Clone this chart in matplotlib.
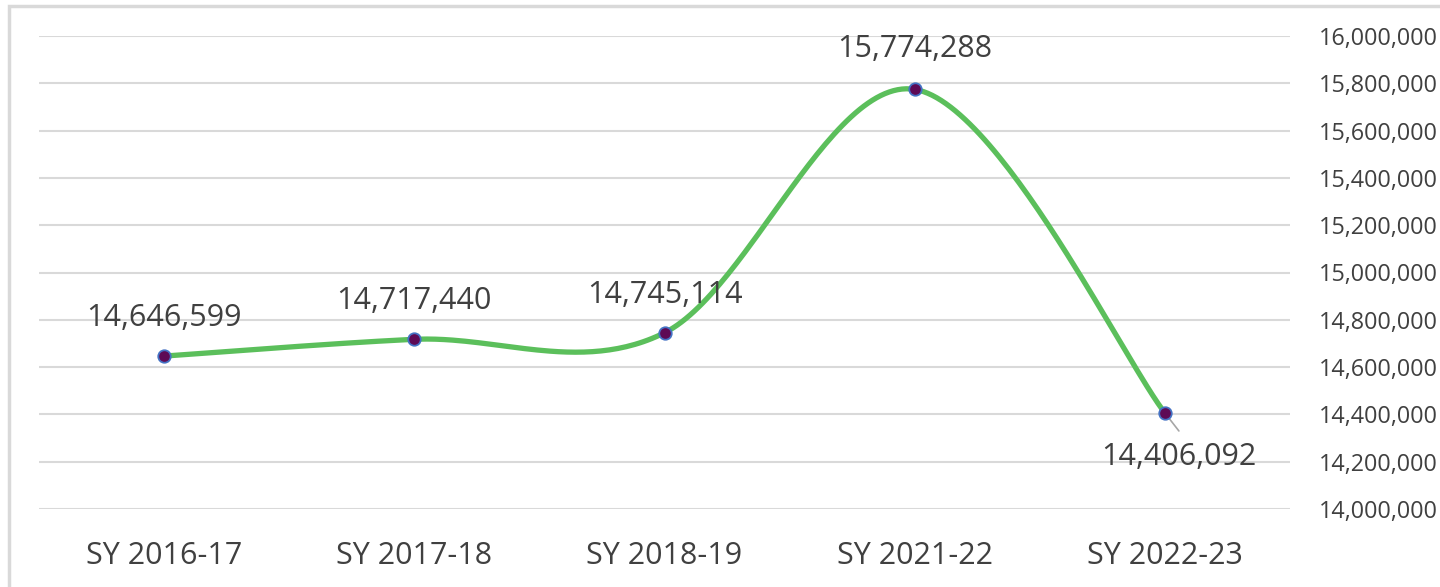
import numpy as np
import matplotlib.pyplot as plt
from matplotlib.patches import Rectangle
from matplotlib.ticker import FuncFormatter

years = ["SY 2016-17", "SY 2017-18", "SY 2018-19", "SY 2021-22", "SY 2022-23"]
enrollment = [14646599, 14717440, 14745114, 15774288, 14406092]

plt.rcParams['font.family'] = ['Open Sans', 'DejaVu Sans']
text_color = "#404040"
grid_color = "#D9D9D9"


def smooth(xs, ys, n=60):
    # Excel-style smoothed line: cubic bezier with catmull-rom control points
    pts = np.column_stack([xs, ys]).astype(float)
    out = []
    for i in range(len(pts) - 1):
        p0 = pts[i - 1] if i > 0 else pts[i]
        p1, p2 = pts[i], pts[i + 1]
        p3 = pts[i + 2] if i + 2 < len(pts) else pts[i + 1]
        c1 = p1 + (p2 - p0) / 6
        c2 = p2 - (p3 - p1) / 6
        t = np.linspace(0, 1, n)[:, None]
        seg = ((1 - t) ** 3) * p1 + 3 * ((1 - t) ** 2) * t * c1 + 3 * (1 - t) * t ** 2 * c2 + t ** 3 * p2
        out.append(seg)
    curve = np.vstack(out)
    return curve[:, 0], curve[:, 1]


fig = plt.figure(figsize=(14.4, 5.87), dpi=100)
ax = fig.add_axes([39 / 1440, 1 - 509 / 587, (1290 - 39) / 1440, (509 - 36) / 587])

x = np.arange(len(years))
sx, sy = smooth(x, enrollment)
ax.plot(sx, sy, color="#5BBF5B", lw=3.8, solid_capstyle="round", zorder=3)
ax.plot(x, enrollment, "o", ms=9, mfc="#5E0A55", mec="#4472C4", mew=1.3, zorder=4)

ax.set_xlim(-0.5, 4.5)
ax.set_ylim(14000000, 16000000)
ax.set_yticks(np.arange(14000000, 16000001, 200000))
ax.yaxis.set_major_formatter(FuncFormatter(lambda v, p: f"{int(v):,}"))
ax.yaxis.tick_right()
ax.grid(axis="y", color=grid_color, lw=1.5)
ax.set_axisbelow(True)
for s in ax.spines.values():
    s.set_visible(False)
ax.set_xticks(x)
ax.set_xticklabels(years)
ax.tick_params(axis="x", length=0, pad=23, labelsize=22, labelcolor=text_color)
ax.tick_params(axis="y", length=0, pad=21, labelsize=16.8, labelcolor=text_color)

# data labels
offsets = [(0, 38), (0, 38), (0, 38), (0, 40), (14, -44)]
for xi, v, off in zip(x, enrollment, offsets):
    ax.annotate(f"{v:,}", (xi, v), xytext=off, textcoords="offset pixels",
                ha="center", va="center", fontsize=22, color=text_color, zorder=5)
# leader line for last label
ax.annotate("", (x[-1], enrollment[-1]), xytext=(14, -18), textcoords="offset pixels",
            arrowprops=dict(arrowstyle="-", color="#A6A6A6", lw=1.2, shrinkA=0, shrinkB=0), zorder=3)

fig.patches.append(Rectangle((9 / 1440, -0.05), 1.1, 1 - 6 / 587 + 0.05, transform=fig.transFigure,
                             fill=False, edgecolor=grid_color, lw=2.5, figure=fig))

fig.savefig("out.png", dpi=100)
